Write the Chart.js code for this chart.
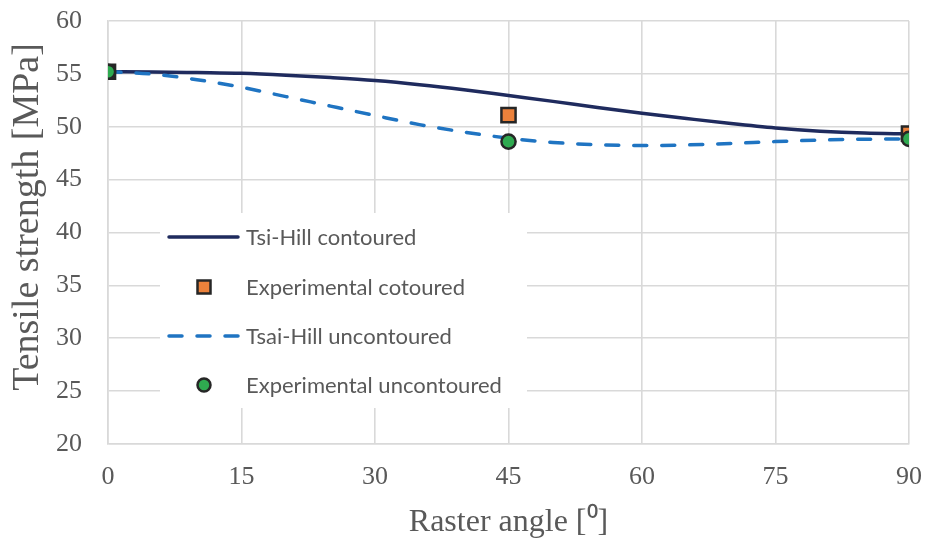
<!DOCTYPE html>
<html>
<head>
<meta charset="utf-8">
<script src="https://cdn.jsdelivr.net/npm/chart.js@4.4.1/dist/chart.umd.min.js"></script>
<style>
  html, body { margin: 0; padding: 0; background: #ffffff; }
  #c { display: block; }
</style>
</head>
<body>
<canvas id="c" width="928" height="541"></canvas>
<script>
// Raster angle (degrees) for the Tsai-Hill prediction curves
const angles = [0, 5, 10, 15, 20, 25, 30, 35, 40, 45, 50, 55, 60, 65, 70, 75, 80, 85, 90];
// Tsai-Hill predicted tensile strength, contoured specimens [MPa]
const tsaiHillContoured = [55.2, 55.18, 55.12, 55.05, 54.88, 54.65, 54.37, 53.98, 53.5, 52.95, 52.4, 51.82, 51.28, 50.78, 50.3, 49.88, 49.58, 49.4, 49.33];
// Tsai-Hill predicted tensile strength, uncontoured specimens [MPa]
const tsaiHillUncontoured = [55.2, 54.98, 54.45, 53.73, 52.85, 51.95, 51.06, 50.2, 49.5, 48.92, 48.52, 48.3, 48.22, 48.28, 48.42, 48.6, 48.74, 48.82, 48.86];
// Measured angles and strengths
const expAngles = [0, 45, 90];
const expContoured = [55.2, 51.1, 49.35];
const expUncontoured = [55.2, 48.6, 48.86];
// Axis ticks
const xTicks = [0, 15, 30, 45, 60, 75, 90];
const yTicks = [20, 25, 30, 35, 40, 45, 50, 55, 60];

const NAVY = '#1F2B5E';
const BLUE = '#1F74C2';
const ORANGE = '#EB813B';
const GREEN = '#2FAA50';
const EDGE = '#262626';
const TEXT = '#595959';
const GRID = '#D9D9D9';
const SERIF = '"Liberation Serif", "Times New Roman", serif';
const SANS = 'Lato, "Open Sans", sans-serif';

const legendItems = [
  { label: 'Tsi-Hill contoured', kind: 'solid' },
  { label: 'Experimental cotoured', kind: 'square' },
  { label: 'Tsai-Hill uncontoured', kind: 'dashed' },
  { label: 'Experimental uncontoured', kind: 'circle' }
];

// Legend box drawn inside the plot area, above the grid and below the data
const insetLegend = {
  id: 'insetLegend',
  beforeDatasetsDraw(chart) {
    const ctx = chart.ctx;
    ctx.save();
    ctx.fillStyle = '#ffffff';
    ctx.fillRect(160, 213, 367, 195);
    const rows = [237, 287, 336, 385];
    legendItems.forEach((it, i) => {
      const y = rows[i];
      ctx.lineCap = 'round';
      if (it.kind === 'solid' || it.kind === 'dashed') {
        ctx.strokeStyle = it.kind === 'solid' ? NAVY : BLUE;
        ctx.lineWidth = 3.5;
        ctx.setLineDash(it.kind === 'dashed' ? [13, 15] : []);
        ctx.beginPath();
        ctx.moveTo(169, y);
        ctx.lineTo(238, y);
        ctx.stroke();
        ctx.setLineDash([]);
      } else if (it.kind === 'square') {
        ctx.fillStyle = ORANGE;
        ctx.strokeStyle = EDGE;
        ctx.lineWidth = 2.5;
        ctx.beginPath();
        ctx.rect(204 - 6.5, y - 6.5, 13, 13);
        ctx.fill();
        ctx.stroke();
      } else {
        ctx.fillStyle = GREEN;
        ctx.strokeStyle = EDGE;
        ctx.lineWidth = 2.5;
        ctx.beginPath();
        ctx.arc(204, y, 6.5, 0, Math.PI * 2);
        ctx.fill();
        ctx.stroke();
      }
      ctx.fillStyle = TEXT;
      ctx.font = '22px ' + SANS;
      ctx.textAlign = 'left';
      ctx.textBaseline = 'middle';
      ctx.fillText(it.label, 246, y + 1);
    });
    ctx.restore();
  }
};

// Vertical axis title
const yTitle = {
  id: 'yTitle',
  afterDraw(chart) {
    const ctx = chart.ctx;
    ctx.save();
    ctx.translate(28, 217);
    ctx.rotate(-Math.PI / 2);
    ctx.fillStyle = TEXT;
    ctx.font = '38px ' + SERIF;
    ctx.textAlign = 'center';
    ctx.textBaseline = 'middle';
    ctx.fillText('Tensile strength [MPa]', 0, 0);
    ctx.restore();
  }
};

const toXY = (xs, ys) => xs.map((x, i) => ({ x: x, y: ys[i] }));

new Chart(document.getElementById('c'), {
  type: 'line',
  data: {
    datasets: [
      {
        label: 'Experimental uncontoured',
        data: toXY(expAngles, expUncontoured),
        showLine: false,
        pointStyle: 'circle',
        pointRadius: 7.1,
        pointBackgroundColor: GREEN,
        pointBorderColor: EDGE,
        pointBorderWidth: 2.5,
        order: 0
      },
      {
        label: 'Experimental cotoured',
        data: toXY(expAngles, expContoured),
        showLine: false,
        pointStyle: 'rect',
        pointRadius: 10,
        pointBackgroundColor: ORANGE,
        pointBorderColor: EDGE,
        pointBorderWidth: 2.5,
        order: 1
      },
      {
        label: 'Tsai-Hill uncontoured',
        data: toXY(angles, tsaiHillUncontoured),
        borderColor: BLUE,
        borderWidth: 3.5,
        borderDash: [13, 15],
        borderCapStyle: 'round',
        pointRadius: 0,
        fill: false,
        cubicInterpolationMode: 'monotone',
        order: 2
      },
      {
        label: 'Tsi-Hill contoured',
        data: toXY(angles, tsaiHillContoured),
        borderColor: NAVY,
        borderWidth: 3.5,
        pointRadius: 0,
        fill: false,
        cubicInterpolationMode: 'monotone',
        order: 3
      }
    ]
  },
  options: {
    responsive: false,
    animation: false,
    events: [],
    layout: { padding: { top: 21, right: 19, left: 0, bottom: 0 } },
    plugins: {
      legend: { display: false },
      tooltip: { enabled: false }
    },
    scales: {
      x: {
        type: 'linear',
        min: 0,
        max: 90,
        afterBuildTicks(scale) { scale.ticks = xTicks.map(v => ({ value: v })); },
        afterFit(scale) {
          scale.height = 97;
          scale.paddingLeft = 0;
          scale.paddingRight = 0;
        },
        ticks: {
          color: TEXT,
          padding: 18,
          maxRotation: 0,
          font: { family: SERIF, size: 26 }
        },
        grid: { color: GRID, lineWidth: 1.6, drawTicks: false },
        border: { color: GRID, width: 1.6 },
        title: {
          display: true,
          text: 'Raster angle [⁰]',
          color: TEXT,
          font: { family: SERIF, size: 32, lineHeight: 1 },
          padding: { top: 0, bottom: 2 }
        }
      },
      y: {
        min: 20,
        max: 60,
        afterBuildTicks(scale) { scale.ticks = yTicks.map(v => ({ value: v })); },
        afterFit(scale) {
          scale.width = 108;
          scale.paddingTop = 0;
          scale.paddingBottom = 0;
        },
        ticks: {
          color: TEXT,
          padding: 26,
          font: { family: SERIF, size: 26 }
        },
        grid: { color: GRID, lineWidth: 1.6, drawTicks: false },
        border: { color: GRID, width: 1.6 }
      }
    }
  },
  plugins: [insetLegend, yTitle]
});
</script>
</body>
</html>
